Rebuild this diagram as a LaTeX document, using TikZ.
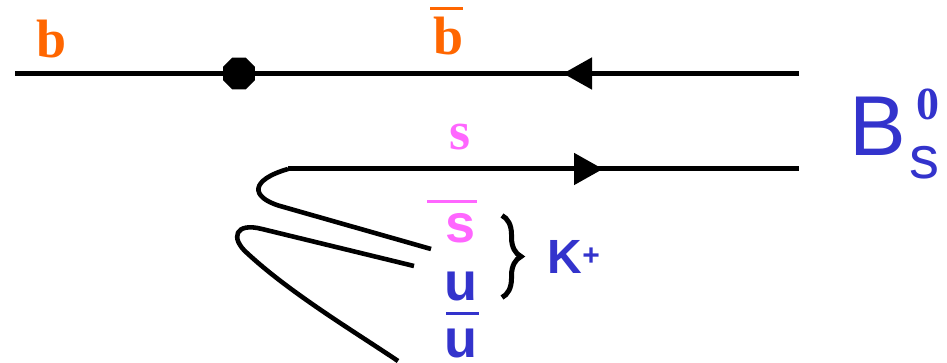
\documentclass[tikz,border=0pt]{standalone}
\usepackage{fontspec}
\setmainfont{Liberation Serif}
\setsansfont{Liberation Sans}
\usetikzlibrary{shapes.geometric,decorations.markings,decorations.pathreplacing,arrows.meta}

\definecolor{qorange}{HTML}{FF6600}
\definecolor{qpink}{HTML}{FF66FF}
\definecolor{qblue}{HTML}{3333CC}

\tikzset{
  quark/.style={line width=5pt},
  flow/.style={line width=4.6pt},
  midtip/.style={postaction={decorate},
    decoration={markings,
      mark=at position #1 with {\arrow{Triangle[length=29pt,width=31pt]}}}},
  vertexdot/.style={regular polygon, regular polygon sides=8, fill=black,
    inner sep=0pt, minimum size=34.6pt},
  serlabel/.style={anchor=base, inner sep=0pt, font=\rmfamily\bfseries\fontsize{54}{54}\selectfont},
  sanslabel/.style={anchor=base, inner sep=0pt, font=\sffamily\bfseries\fontsize{54}{54}\selectfont},
  bar/.style={line width=2.2pt}
}

\begin{document}
\begin{tikzpicture}[x=1pt,y=1pt]
  \useasboundingbox (0,0) rectangle (947,-363);

  % b / anti-b line with the vertex
  \coordinate (bL) at (15,-73.5);
  \coordinate (bR) at (799,-73.5);
  \node[vertexdot] (vtx) at (239,-73.5) {};
  \draw[quark, midtip=236pt] (bR) -- (vtx.center);
  \draw[quark] (vtx.center) -- (bL);

  % s line
  \coordinate (sL) at (288,-169);
  \coordinate (sR) at (799,-169);
  \draw[quark, midtip=315pt] (sL) -- (sR);

  % s-bar line bending back from the s line
  \coordinate (sbEnd) at (431,-249);
  \draw[flow] (sL) .. controls (250,-180) and (250,-197) .. (280,-206) -- (sbEnd);

  % u u-bar pair
  \coordinate (uEnd) at (414,-266);
  \coordinate (ubEnd) at (398,-361);
  \draw[flow] (uEnd) -- (262,-229) .. controls (235,-222) and (230,-238) .. (247,-253)
    .. controls (290,-293) and (355,-332) .. (ubEnd);

  % quark labels
  \node[serlabel, text=qorange] (lb) at (52,-58) {b};
  \node[serlabel, text=qorange] (lbbar) at (449,-55) {b};
  \draw[bar, qorange] (430,-8.5) -- (463,-8.5);
  \node[serlabel, text=qpink] (ls) at (460.5,-150) {s};
  \node[sanslabel, text=qpink] (lsbar) at (460.5,-243) {s};
  \draw[bar, qpink] (427,-201.5) -- (477,-201.5);
  \node[sanslabel, text=qblue] (lu) at (461,-300) {u};
  \node[sanslabel, text=qblue] (lubar) at (461,-357) {u};
  \draw[bar, qblue] (446,-313.5) -- (479,-313.5);

  % kaon brace
  \draw[line width=5pt, decorate, decoration={brace, amplitude=19pt}]
    (502,-215.5) -- (502,-297.5);
  \node[anchor=base west, inner sep=0pt, text=qblue,
    font=\sffamily\bfseries\fontsize{48}{48}\selectfont] (lK) at (547.5,-273)
    {K{\fontsize{30}{30}\selectfont\raisebox{8pt}{+}}};

  % B_s^0 meson label
  \node[anchor=base west, inner sep=0pt, text=qblue,
    font=\sffamily\fontsize{85}{85}\selectfont] (lB) at (849.5,-156) {B};
  \node[anchor=base west, inner sep=0pt, text=qblue,
    font=\sffamily\fontsize{60}{60}\selectfont] (lBs) at (909,-179) {s};
  \node[anchor=base, inner sep=0pt, text=qblue,
    font=\rmfamily\bfseries\fontsize{46}{46}\selectfont] (lB0) at (927.5,-120) {0};
\end{tikzpicture}
\end{document}
